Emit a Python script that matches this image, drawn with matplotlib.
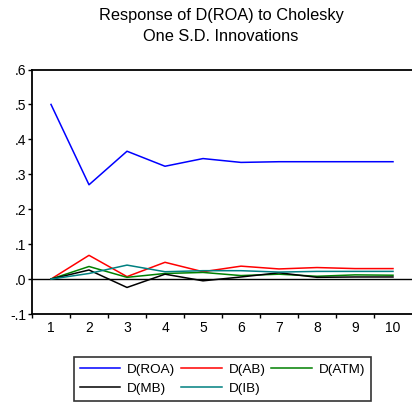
import matplotlib
matplotlib.use("Agg")
import matplotlib.pyplot as plt
from matplotlib.ticker import FixedLocator, NullFormatter

plt.rcParams['font.family'] = ['Liberation Sans', 'DejaVu Sans']

periods = [1, 2, 3, 4, 5, 6, 7, 8, 9, 10]
roa = [0.500, 0.270, 0.366, 0.323, 0.345, 0.334, 0.336, 0.336, 0.336, 0.336]
ab = [0.000, 0.068, 0.007, 0.048, 0.021, 0.037, 0.029, 0.033, 0.030, 0.030]
atm = [0.000, 0.036, 0.005, 0.016, 0.019, 0.010, 0.014, 0.008, 0.012, 0.011]
mb = [0.000, 0.026, -0.024, 0.014, -0.005, 0.006, 0.018, 0.005, 0.006, 0.006]
ib = [0.000, 0.016, 0.040, 0.021, 0.024, 0.024, 0.020, 0.022, 0.022, 0.022]
series_names = ["D(ROA)", "D(AB)", "D(ATM)", "D(MB)", "D(IB)"]
yticks = [-0.1, 0.0, 0.1, 0.2, 0.3, 0.4, 0.5, 0.6]
ytick_labels = ["-.1", ".0", ".1", ".2", ".3", ".4", ".5", ".6"]
title = "Response of D(ROA) to Cholesky\nOne S.D. Innovations"

colors = ["#0000ff", "#ff0000", "#008000", "#000000", "#008080"]

fig = plt.figure(figsize=(4.12, 4.03), dpi=100)
ax = fig.add_axes([32/412, 1-314/403, 380/412, (314-69.5)/403])

ax.axhline(0, color="black", lw=1.0, zorder=1)
handles = []
for data, c, name in zip([roa, ab, atm, mb, ib], colors, series_names):
    h, = ax.plot(periods, data, color=c, lw=1.1, label=name, zorder=2)
    handles.append(h)

ax.set_xlim(0.5, 10.5)
ax.set_ylim(-0.1, 0.6)
ax.set_yticks(yticks)
ax.set_yticklabels(ytick_labels, fontsize=10)
ax.xaxis.set_major_locator(FixedLocator([p - 0.5 for p in periods]))
ax.xaxis.set_major_formatter(NullFormatter())
ax.xaxis.set_minor_locator(FixedLocator(periods))
ax.set_xticklabels([str(p) for p in periods], minor=True, fontsize=10)
ax.tick_params(axis='x', which='major', direction='out', length=3, width=1)
ax.tick_params(axis='x', which='minor', length=0, pad=5)
ax.tick_params(axis='y', direction='out', length=3, width=1, pad=1)
for s in ['left', 'bottom', 'top']:
    ax.spines[s].set_linewidth(1.3)
ax.spines['right'].set_visible(False)

fig.text(221/412, 1-26/403, title, ha='center', va='center', fontsize=11.8, linespacing=1.45)

order = [0, 3, 1, 4, 2]
leg = fig.legend([handles[i] for i in order], [series_names[i] for i in order],
                 loc='lower left', bbox_to_anchor=(74/412, 2/403, 297/412, 43/403),
                 mode='expand', ncol=3, fontsize=9.7, frameon=True, fancybox=False,
                 handlelength=3.0, handletextpad=0.5, columnspacing=0.8,
                 borderaxespad=0, labelspacing=0.5, borderpad=0.45)
leg.get_frame().set_edgecolor('black')
leg.get_frame().set_linewidth(1.2)

fig.savefig("out.png", dpi=100)
